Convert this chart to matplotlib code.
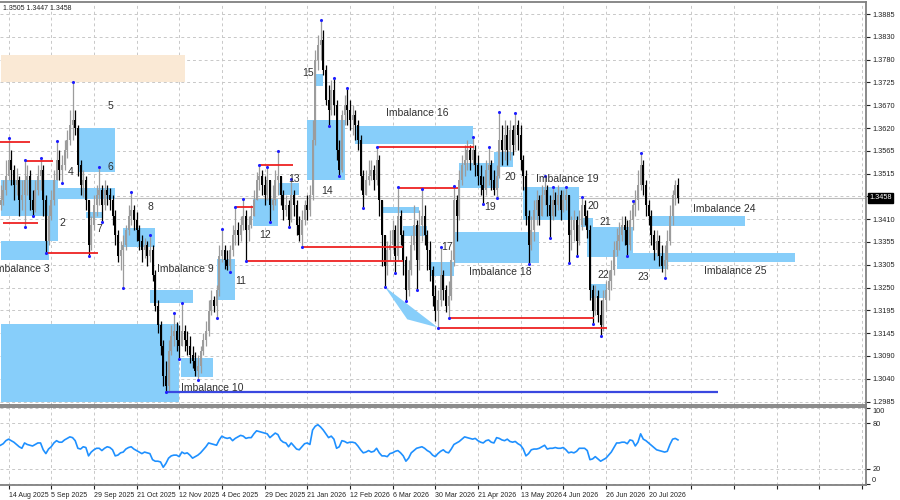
import numpy as np
import matplotlib.pyplot as plt
from matplotlib.patches import Rectangle, Polygon

plt.rcParams['font.family'] = ['Liberation Sans', 'DejaVu Sans']

# daily candles (open of each bar = previous close)
first_open = 1.3441
closes = [
    1.3452, 1.3476, 1.3510, 1.3545, 1.3522, 1.3487, 1.3499, 1.3452, 1.3464, 1.3499,
    1.3510, 1.3452, 1.3429, 1.3476, 1.3510, 1.3522, 1.3452, 1.3359, 1.3417, 1.3452,
    1.3499, 1.3545, 1.3522, 1.3534, 1.3569, 1.3592, 1.3627, 1.3638, 1.3620, 1.3534,
    1.3487, 1.3499, 1.3452, 1.3348, 1.3394, 1.3441, 1.3464, 1.3476, 1.3441, 1.3476,
    1.3464, 1.3452, 1.3417, 1.3371, 1.3324, 1.3336, 1.3348, 1.3383, 1.3417, 1.3429,
    1.3406, 1.3383, 1.3359, 1.3336, 1.3348, 1.3324, 1.3336, 1.3278, 1.3208, 1.3162,
    1.3115, 1.3045, 1.3022, 1.3103, 1.3138, 1.3150, 1.3127, 1.3115, 1.3150, 1.3127,
    1.3115, 1.3092, 1.3080, 1.3057, 1.3068, 1.3103, 1.3127, 1.3150, 1.3196, 1.3220,
    1.3208, 1.3243, 1.3324, 1.3336, 1.3313, 1.3301, 1.3336, 1.3371, 1.3383, 1.3371,
    1.3394, 1.3417, 1.3383, 1.3394, 1.3417, 1.3452, 1.3499, 1.3510, 1.3487, 1.3464,
    1.3499, 1.3441, 1.3452, 1.3499, 1.3510, 1.3464, 1.3429, 1.3441, 1.3406, 1.3464,
    1.3441, 1.3394, 1.3371, 1.3406, 1.3441, 1.3429, 1.3464, 1.3592, 1.3778, 1.3813,
    1.3825, 1.3755, 1.3685, 1.3662, 1.3708, 1.3673, 1.3569, 1.3522, 1.3650, 1.3673,
    1.3662, 1.3638, 1.3650, 1.3627, 1.3592, 1.3510, 1.3464, 1.3499, 1.3510, 1.3522,
    1.3499, 1.3545, 1.3452, 1.3371, 1.3301, 1.3336, 1.3348, 1.3383, 1.3324, 1.3417,
    1.3371, 1.3313, 1.3243, 1.3290, 1.3348, 1.3394, 1.3313, 1.3394, 1.3417, 1.3371,
    1.3336, 1.3290, 1.3231, 1.3196, 1.3220, 1.3278, 1.3243, 1.3208, 1.3231, 1.3313,
    1.3452, 1.3417, 1.3499, 1.3534, 1.3545, 1.3569, 1.3545, 1.3569, 1.3534, 1.3510,
    1.3487, 1.3476, 1.3522, 1.3534, 1.3499, 1.3476, 1.3510, 1.3592, 1.3569, 1.3604,
    1.3569, 1.3615, 1.3580, 1.3627, 1.3604, 1.3545, 1.3510, 1.3417, 1.3348, 1.3383,
    1.3429, 1.3452, 1.3417, 1.3464, 1.3476, 1.3441, 1.3417, 1.3452, 1.3441, 1.3464,
    1.3429, 1.3452, 1.3464, 1.3371, 1.3383, 1.3406, 1.3359, 1.3394, 1.3441, 1.3417,
    1.3383, 1.3243, 1.3196, 1.3231, 1.3185, 1.3162, 1.3220, 1.3243, 1.3266, 1.3290,
    1.3336, 1.3359, 1.3371, 1.3394, 1.3383, 1.3348, 1.3406, 1.3441, 1.3452, 1.3487,
    1.3534, 1.3487, 1.3441, 1.3417, 1.3371, 1.3336, 1.3359, 1.3324, 1.3301, 1.3313,
    1.3359, 1.3417, 1.3464, 1.3487, 1.3458,
]
highs = [
    1.3487, 1.3499, 1.3545, 1.3597, 1.3569, 1.3534, 1.3527, 1.3510, 1.3499, 1.3545,
    1.3534, 1.3522, 1.3476, 1.3499, 1.3534, 1.3550, 1.3534, 1.3464, 1.3441, 1.3476,
    1.3522, 1.3590, 1.3569, 1.3557, 1.3592, 1.3615, 1.3662, 1.3727, 1.3662, 1.3627,
    1.3545, 1.3522, 1.3510, 1.3452, 1.3417, 1.3464, 1.3487, 1.3529, 1.3487, 1.3499,
    1.3487, 1.3480, 1.3464, 1.3429, 1.3383, 1.3359, 1.3371, 1.3394, 1.3441, 1.3471,
    1.3441, 1.3425, 1.3394, 1.3371, 1.3364, 1.3359, 1.3371, 1.3348, 1.3290, 1.3220,
    1.3173, 1.3127, 1.3080, 1.3127, 1.3162, 1.3190, 1.3169, 1.3162, 1.3213, 1.3162,
    1.3150, 1.3138, 1.3115, 1.3099, 1.3092, 1.3115, 1.3145, 1.3173, 1.3220, 1.3243,
    1.3231, 1.3255, 1.3348, 1.3385, 1.3348, 1.3336, 1.3348, 1.3394, 1.3438, 1.3401,
    1.3417, 1.3455, 1.3429, 1.3417, 1.3441, 1.3476, 1.3518, 1.3534, 1.3522, 1.3510,
    1.3529, 1.3499, 1.3487, 1.3522, 1.3566, 1.3510, 1.3476, 1.3464, 1.3452, 1.3501,
    1.3476, 1.3452, 1.3417, 1.3429, 1.3452, 1.3464, 1.3487, 1.3638, 1.3801, 1.3836,
    1.3871, 1.3848, 1.3766, 1.3720, 1.3731, 1.3736, 1.3685, 1.3592, 1.3662, 1.3697,
    1.3713, 1.3685, 1.3673, 1.3662, 1.3638, 1.3604, 1.3522, 1.3522, 1.3545, 1.3545,
    1.3534, 1.3576, 1.3557, 1.3452, 1.3371, 1.3359, 1.3383, 1.3406, 1.3394, 1.3483,
    1.3429, 1.3383, 1.3324, 1.3313, 1.3371, 1.3441, 1.3406, 1.3429, 1.3478, 1.3441,
    1.3383, 1.3359, 1.3301, 1.3255, 1.3243, 1.3343, 1.3290, 1.3255, 1.3266, 1.3336,
    1.3485, 1.3464, 1.3522, 1.3557, 1.3580, 1.3592, 1.3580, 1.3599, 1.3580, 1.3557,
    1.3534, 1.3510, 1.3545, 1.3576, 1.3545, 1.3522, 1.3534, 1.3657, 1.3627, 1.3638,
    1.3627, 1.3638, 1.3627, 1.3655, 1.3638, 1.3627, 1.3557, 1.3522, 1.3429, 1.3417,
    1.3452, 1.3476, 1.3464, 1.3487, 1.3508, 1.3487, 1.3464, 1.3483, 1.3471, 1.3487,
    1.3476, 1.3476, 1.3483, 1.3464, 1.3417, 1.3429, 1.3417, 1.3429, 1.3459, 1.3452,
    1.3429, 1.3394, 1.3255, 1.3255, 1.3243, 1.3220, 1.3243, 1.3266, 1.3290, 1.3313,
    1.3359, 1.3387, 1.3401, 1.3417, 1.3417, 1.3406, 1.3429, 1.3450, 1.3476, 1.3522,
    1.3562, 1.3545, 1.3499, 1.3452, 1.3429, 1.3383, 1.3383, 1.3371, 1.3348, 1.3348,
    1.3383, 1.3441, 1.3476, 1.3499, 1.3505,
]
lows = [
    1.3429, 1.3441, 1.3464, 1.3499, 1.3487, 1.3452, 1.3464, 1.3417, 1.3429, 1.3390,
    1.3464, 1.3429, 1.3415, 1.3425, 1.3464, 1.3476, 1.3417, 1.3331, 1.3348, 1.3406,
    1.3441, 1.3499, 1.3499, 1.3492, 1.3522, 1.3550, 1.3580, 1.3592, 1.3604, 1.3510,
    1.3464, 1.3459, 1.3429, 1.3324, 1.3336, 1.3383, 1.3417, 1.3441, 1.3401, 1.3429,
    1.3441, 1.3429, 1.3394, 1.3348, 1.3308, 1.3290, 1.3248, 1.3336, 1.3371, 1.3394,
    1.3383, 1.3359, 1.3336, 1.3308, 1.3318, 1.3301, 1.3308, 1.3266, 1.3196, 1.3145,
    1.3092, 1.3022, 1.3008, 1.3010, 1.3092, 1.3115, 1.3103, 1.3083, 1.3115, 1.3103,
    1.3092, 1.3075, 1.3062, 1.3045, 1.3036, 1.3052, 1.3092, 1.3115, 1.3138, 1.3185,
    1.3192, 1.3178, 1.3231, 1.3308, 1.3294, 1.3290, 1.3285, 1.3324, 1.3348, 1.3348,
    1.3359, 1.3383, 1.3311, 1.3359, 1.3387, 1.3417, 1.3452, 1.3476, 1.3464, 1.3441,
    1.3452, 1.3401, 1.3429, 1.3441, 1.3464, 1.3441, 1.3406, 1.3417, 1.3390, 1.3401,
    1.3417, 1.3371, 1.3359, 1.3343, 1.3394, 1.3406, 1.3417, 1.3452, 1.3580, 1.3755,
    1.3778, 1.3743, 1.3673, 1.3625, 1.3650, 1.3650, 1.3545, 1.3508, 1.3518, 1.3627,
    1.3627, 1.3615, 1.3604, 1.3592, 1.3569, 1.3476, 1.3434, 1.3464, 1.3487, 1.3499,
    1.3476, 1.3487, 1.3417, 1.3301, 1.3252, 1.3278, 1.3313, 1.3336, 1.3283, 1.3313,
    1.3348, 1.3278, 1.3218, 1.3231, 1.3278, 1.3336, 1.3245, 1.3290, 1.3359, 1.3348,
    1.3290, 1.3266, 1.3208, 1.3173, 1.3157, 1.3208, 1.3220, 1.3192, 1.3178, 1.3220,
    1.3301, 1.3359, 1.3406, 1.3487, 1.3510, 1.3522, 1.3522, 1.3534, 1.3510, 1.3487,
    1.3464, 1.3445, 1.3464, 1.3487, 1.3476, 1.3464, 1.3457, 1.3504, 1.3534, 1.3545,
    1.3534, 1.3545, 1.3557, 1.3569, 1.3569, 1.3522, 1.3476, 1.3394, 1.3304, 1.3336,
    1.3359, 1.3394, 1.3394, 1.3417, 1.3441, 1.3417, 1.3366, 1.3406, 1.3417, 1.3429,
    1.3406, 1.3425, 1.3429, 1.3306, 1.3336, 1.3359, 1.3322, 1.3348, 1.3383, 1.3394,
    1.3364, 1.3220, 1.3164, 1.3185, 1.3169, 1.3138, 1.3150, 1.3196, 1.3220, 1.3243,
    1.3278, 1.3324, 1.3336, 1.3359, 1.3348, 1.3322, 1.3336, 1.3383, 1.3417, 1.3429,
    1.3476, 1.3464, 1.3417, 1.3394, 1.3348, 1.3313, 1.3324, 1.3301, 1.3285, 1.3273,
    1.3294, 1.3348, 1.3394, 1.3441, 1.3447,
]
rsi = [
    51, 53, 57, 59, 57, 55, 52, 49, 47, 54,
    52, 51, 50, 52, 54, 54, 45, 40, 46, 49,
    54, 57, 55, 55, 58, 60, 62, 61, 57, 47,
    46, 49, 48, 37, 42, 45, 47, 47, 44, 47,
    49, 48, 45, 37, 38, 41, 42, 46, 48, 49,
    46, 44, 42, 40, 42, 41, 40, 32, 30, 30,
    29, 22, 27, 34, 37, 38, 38, 36, 42, 40,
    41, 38, 34, 36, 38, 41, 45, 49, 54, 53,
    52, 51, 58, 63, 61, 60, 61, 57, 60, 62,
    64, 63, 60, 61, 61, 66, 70, 69, 68, 67,
    66, 61, 64, 67, 65, 58, 55, 54, 49, 54,
    50, 46, 45, 49, 53, 54, 52, 71, 76, 78,
    75, 71, 66, 61, 63, 59, 47, 49, 57, 56,
    54, 55, 55, 54, 50, 45, 41, 42, 44, 42,
    43, 47, 41, 37, 37, 36, 40, 41, 43, 44,
    41, 37, 30, 34, 41, 44, 47, 48, 49, 47,
    44, 42, 38, 36, 40, 43, 45, 42, 41, 46,
    52, 54, 56, 59, 62, 61, 60, 59, 60, 57,
    55, 54, 57, 58, 55, 54, 61, 60, 58, 57,
    59, 56, 55, 56, 53, 51, 46, 37, 40, 45,
    46, 46, 47, 49, 51, 46, 47, 47, 48, 47,
    47, 48, 45, 41, 42, 41, 43, 47, 47, 47,
    44, 32, 33, 36, 33, 30, 32, 34, 38, 42,
    48, 54, 54, 55, 55, 53, 58, 57, 50, 55,
    66, 59, 57, 54, 51, 48, 45, 44, 43, 42,
    43, 52, 59, 60, 58,
]

date_labels = ['14 Aug 2025', '5 Sep 2025', '29 Sep 2025', '21 Oct 2025', '12 Nov 2025',
               '4 Dec 2025', '29 Dec 2025', '21 Jan 2026', '12 Feb 2026', '6 Mar 2026',
               '30 Mar 2026', '21 Apr 2026', '13 May 2026', '4 Jun 2026', '26 Jun 2026',
               '20 Jul 2026']
price_labels = ['1.2985', '1.3040', '1.3090', '1.3145', '1.3195', '1.3250', '1.3305', '1.3355',
                '1.3410', '', '1.3515', '1.3565', '1.3620', '1.3670', '1.3725', '1.3780',
                '1.3830', '1.3885']
last_price = 1.3458
header = '1.3505 1.3447 1.3458'

fractal_high_bars = [3, 9, 15, 21, 27, 37, 49, 56, 65, 68, 83, 88, 91, 97, 100, 104, 109, 120,
                     125, 130, 141, 149, 158, 165, 170, 177, 183, 187, 193, 204, 207, 212, 218,
                     237, 240]
fractal_low_bars = [9, 12, 17, 23, 33, 38, 46, 62, 67, 74, 81, 86, 92, 101, 108, 113, 123, 127,
                    136, 144, 148, 152, 156, 164, 168, 181, 186, 198, 206, 213, 216, 222, 225,
                    235, 249]

# (from bar, to bar, price)
red_levels = [(-1, 11, 1.3588), (9, 19.5, 1.3543), (1, 14, 1.3400), (17, 36.5, 1.3331),
              (88, 94.5, 1.3438), (92, 151, 1.3311), (97, 109.5, 1.3534), (113, 151, 1.3343),
              (141, 177.5, 1.3576), (149, 171.5, 1.3480), (168, 222.5, 1.3178),
              (164, 227.5, 1.3157)]
blue_level = (62, 269, 1.3008)

# imbalance zones: (from bar, to bar, top, bottom)
zones = [
    (0, 18, 1.3499, 1.3415), (18, 21.4, 1.3499, 1.3359), (0, 18, 1.3359, 1.3313),
    (21.4, 43, 1.3480, 1.3455), (29, 43, 1.3620, 1.3518), (32, 38.6, 1.3425, 1.3411),
    (46, 58, 1.3387, 1.3343), (56, 72, 1.3245, 1.3213), (0, 67, 1.3164, 1.2983),
    (67.5, 79.5, 1.3087, 1.3041), (81, 88, 1.3315, 1.3222), (94.5, 104, 1.3455, 1.3392),
    (104, 112, 1.3492, 1.3464), (115, 129, 1.3638, 1.3499), (118, 121, 1.3746, 1.3718),
    (133, 177, 1.3624, 1.3583), (142.5, 157, 1.3436, 1.3422), (151, 160, 1.3392, 1.3369),
    (161, 170, 1.3308, 1.3276), (170, 202, 1.3378, 1.3306), (172, 187, 1.3538, 1.3480),
    (185, 192, 1.3564, 1.3529), (196, 217, 1.3483, 1.3406), (217.5, 222, 1.3411, 1.3390),
    (220, 237, 1.3390, 1.3320), (221, 227.5, 1.3259, 1.3226), (231, 250, 1.3331, 1.3294),
    (244, 279, 1.3415, 1.3392), (250, 298, 1.3331, 1.3308),
]
supply_zone = (0, 69, 1.3790, 1.3727)
wedge = [(144, 1.3252), (152.5, 1.3176), (164, 1.3157)]

# (text, bar, price, align)
tags = [
    ('Imbalance 3', -3, 1.3294, 'left'), ('2', 23.1, 1.3400, 'center'),
    ('4', 26.2, 1.3518, 'center'), ('5', 41.2, 1.3672, 'center'),
    ('6', 41.2, 1.3529, 'center'), ('7', 37.2, 1.3385, 'center'),
    ('8', 56.2, 1.3436, 'center'), ('Imbalance 9', 58.5, 1.3294, 'left'),
    ('Imbalance 10', 67.5, 1.3017, 'left'), ('11', 90, 1.3265, 'center'),
    ('12', 99.2, 1.3371, 'center'), ('13', 110.2, 1.3501, 'center'),
    ('14', 122.3, 1.3474, 'center'), ('15', 115.2, 1.3749, 'center'),
    ('Imbalance 16', 144.4, 1.3655, 'left'), ('17', 167.4, 1.3344, 'center'),
    ('Imbalance 18', 175.5, 1.3287, 'left'), ('19', 183.4, 1.3437, 'center'),
    ('20', 191.2, 1.3506, 'center'), ('Imbalance 19', 200.6, 1.3501, 'left'),
    ('20', 222.2, 1.3439, 'center'), ('21', 226.8, 1.3401, 'center'),
    ('22', 226.1, 1.3280, 'center'), ('23', 241.1, 1.3274, 'center'),
    ('Imbalance 24', 259.5, 1.3432, 'left'), ('Imbalance 25', 263.6, 1.3289, 'left'),
]

W, H = 900, 500
fig = plt.figure(figsize=(9, 5), dpi=100)
fig.patch.set_facecolor('white')
ax = fig.add_axes([0, 1 - 405 / H, 866 / W, 403 / H])
ax2 = fig.add_axes([0, 1 - 485 / H, 866 / W, 78 / H])

n = len(closes)
idx = np.arange(n)
c = np.array(closes)
o = np.array([first_open] + closes[:-1])
hi = np.array(highs)
lo = np.array(lows)
up = c >= o

zone_col = '#87CEFA'
for x0, x1, top, bot in zones:
    ax.add_patch(Rectangle((x0, bot), x1 - x0, top - bot, facecolor=zone_col, edgecolor='none', zorder=1))
x0, x1, top, bot = supply_zone
ax.add_patch(Rectangle((x0, bot), x1 - x0, top - bot, facecolor='#FAE9D5', edgecolor='none', zorder=1))
ax.add_patch(Polygon(wedge, closed=True, facecolor=zone_col, edgecolor='none', zorder=1))

ax.axhline(last_price, color='#BDBDBD', lw=0.8, zorder=0.8)

colors = np.where(up, '#9C9C9C', '#000000')
ax.vlines(idx, lo, hi, colors=colors, lw=0.9, zorder=3)
body = np.maximum(np.abs(c - o), 0.00012)
ax.bar(idx, body, bottom=np.minimum(o, c), width=0.75, color=colors, lw=0, zorder=4)

for a, b, p in red_levels:
    ax.hlines(p, a, b, color='#EE2222', lw=1.3, zorder=5)
ax.hlines(blue_level[2], blue_level[0], blue_level[1], color='#3A48E0', lw=1.6, zorder=5)

ax.scatter(fractal_high_bars, hi[fractal_high_bars], s=5, color='#1E1EFF', zorder=6, lw=0)
ax.scatter(fractal_low_bars, lo[fractal_low_bars], s=5, color='#1E1EFF', zorder=6, lw=0)

for t, x, y, ha in tags:
    ax.text(x, y, t, ha=ha, va='center', fontsize=7.5, color='#303030', zorder=7, clip_on=True)

xmax = 866 / 2.667
grid_bars = np.arange(3, xmax, 16)
for a in (ax, ax2):
    a.set_xlim(-0.2, xmax - 0.2)
    a.set_xticks(grid_bars)
    a.grid(True, color='#C8C8C8', ls=(0, (3, 3)), lw=0.7)
    a.set_axisbelow(True)
    a.yaxis.tick_right()
    a.tick_params(axis='y', labelsize=5.3, length=3, pad=1.5, colors='#222222')
    for s in ('top', 'right', 'bottom'):
        a.spines[s].set_color('#808080')
        a.spines[s].set_linewidth(1.3)
    a.spines['left'].set_visible(False)

ax.set_ylim(1.2977, 1.3913)
ax.set_yticks(np.linspace(1.2985, 1.3885, 18))
ax.set_yticklabels(price_labels)
ax.tick_params(axis='x', labelbottom=False, length=0)
ax.text(1.004, last_price, f'{last_price:.4f}', transform=ax.get_yaxis_transform(),
        ha='left', va='center', fontsize=5.3, color='white',
        bbox=dict(facecolor='black', edgecolor='black', pad=1.0), clip_on=False)
fig.text(0.003, 1 - 9 / H, header, fontsize=5.0, color='#222222', va='center')

ax2.plot(idx, rsi, color='#1E90FF', lw=1.2)
ax2.set_ylim(-1.3, 101.3)
ax2.set_yticks([0, 20, 80, 100])
ax2.set_yticklabels(['0', '20', '80', '100'])
ylabs = ax2.get_yticklabels()
ylabs[0].set_va('bottom')
ylabs[3].set_va('top')
ax2.set_xticklabels(date_labels + [''] * (len(grid_bars) - len(date_labels)))
ax2.tick_params(axis='x', labelsize=5.0, length=3, pad=2, colors='#222222')
for lab in ax2.get_xticklabels():
    lab.set_ha('left')

fig.savefig('out.png', dpi=100, facecolor='white')
